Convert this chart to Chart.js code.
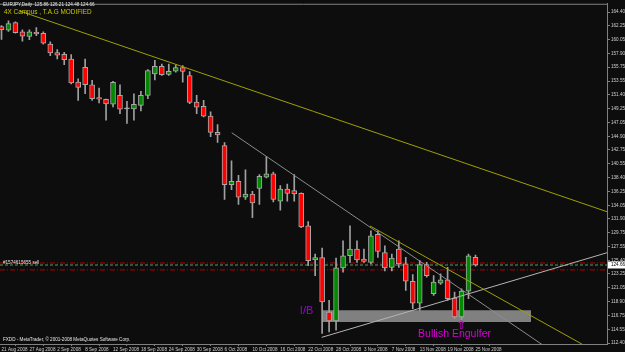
<!DOCTYPE html>
<html><head><meta charset="utf-8">
<script src="https://cdn.jsdelivr.net/npm/chart.js@4/dist/chart.umd.min.js"></script>
<style>html,body{margin:0;padding:0;background:#0d0d0d;overflow:hidden}</style>
</head><body>
<canvas id="c" width="625" height="352"></canvas>
<script>
// ---- data ----
const dateLabels = ["21 Aug 2008","27 Aug 2008","2 Sep 2008","8 Sep 2008","12 Sep 2008","18 Sep 2008","24 Sep 2008","30 Sep 2008","6 Oct 2008","10 Oct 2008","16 Oct 2008","22 Oct 2008","28 Oct 2008","3 Nov 2008","7 Nov 2008","13 Nov 2008","19 Nov 2008","25 Nov 2008"];
const priceTicks = ["164.40","162.25","160.05","157.90","155.75","153.55","151.40","149.25","147.05","144.90","142.75","140.55","138.40","136.25","134.05","131.90","129.75","127.55","125.40","123.25","121.05","118.90","116.75","114.55","112.40"];
const opens  = [162.14,161.56,162.76,161.31,160.58,161.25,161.09,159.38,158.04,157.77,157.04,153.41,155.75,152.99,150.96,150.71,149.93,151.33,149.20,149.20,149.74,151.33,154.70,155.90,154.61,155.12,155.71,154.45,150.29,149.62,148.06,145.50,143.43,137.30,137.81,135.32,135.79,136.68,138.48,139.01,134.70,136.61,136.36,135.94,130.80,125.45,125.81,117.28,115.87,124.20,126.12,127.16,125.60,125.07,129.50,126.63,124.29,127.16,124.83,122.11,118.68,124.72,120.15,121.80,122.33,119.52,116.50,120.55,125.86];
const highs  = [162.30,163.03,162.87,161.62,161.62,161.98,161.31,159.75,158.51,158.09,157.73,153.92,157.04,153.67,152.47,150.75,153.52,152.99,150.40,151.58,151.96,155.39,156.84,156.26,156.26,156.10,156.01,155.08,151.33,150.55,148.73,146.75,143.90,141.04,138.75,139.64,136.25,138.86,141.71,139.26,137.14,137.39,138.86,135.99,131.47,126.38,127.32,119.10,125.73,128.46,130.80,128.46,127.16,130.02,130.02,127.68,126.38,128.46,125.85,123.16,125.34,125.07,123.00,123.27,124.29,120.40,120.93,126.38,126.21];
const lows   = [160.11,161.36,161.09,159.85,160.07,160.69,159.38,157.57,157.04,156.17,153.14,150.55,151.58,150.55,150.13,147.44,149.51,148.46,146.90,147.44,148.89,150.80,153.77,154.45,154.45,154.97,153.41,150.02,148.46,147.95,144.83,143.94,134.96,136.52,134.18,134.96,132.09,134.18,138.33,134.59,133.29,134.70,134.70,130.53,124.56,123.00,113.91,114.16,114.42,123.52,125.07,125.07,125.07,124.83,125.85,123.75,123.75,124.29,120.66,117.81,117.54,122.74,119.88,121.60,119.10,116.25,116.09,119.37,124.48];
const closes = [161.67,162.61,161.20,160.63,161.31,161.00,159.54,157.98,157.66,156.95,153.30,152.58,152.99,150.80,150.71,149.98,153.36,149.15,149.20,149.93,151.33,155.23,155.90,154.58,155.12,155.71,155.08,150.21,149.46,148.06,145.50,145.10,137.30,137.81,135.32,135.79,134.43,138.59,139.01,134.96,136.61,135.90,135.83,130.64,125.34,125.81,118.87,115.87,124.20,126.12,127.16,125.45,125.23,129.24,126.79,124.20,125.76,124.83,122.11,118.68,124.72,123.00,121.96,122.33,119.37,116.50,120.55,126.12,124.66];
// trend lines: [bar index, price]
const upperTrend   = [[2.65,164.57],[86.87,133.04]];
const midTrend     = [[33.03,145.45],[78.3,111.6]];
const lowerTrend   = [[52.87,130.80],[84.3,111.6]];
const supportTrend = [[45.94,113.29],[86.87,126.59]];
const zoneX = [45.94, 75.97];
const zoneY = [115.72, 117.54];
const stopLevels = [124.98, 123.89];
const bidPrice = 124.66;
const xRange = [-0.215, 86.87];
const yRange = [112.244, 165.725];

// ---- build ----
const pts = a => a.map(p => ({x:p[0], y:p[1]}));
const hline = v => [{x:xRange[0], y:v},{x:xRange[1], y:v}];
const bodyColors = opens.map((o,i) => closes[i] > o ? '#008a00' : (closes[i] < o ? '#ff0000' : '#b0b0b0'));

const lineBase = {type:'line', pointRadius:0, borderWidth:1, fill:false, tension:0};
const datasets = [
  Object.assign({}, lineBase, {data: pts(upperTrend), borderColor:'#a0a000', order:0}),
  Object.assign({}, lineBase, {data: pts(midTrend), borderColor:'#8c8c8c', order:0}),
  Object.assign({}, lineBase, {data: pts(lowerTrend), borderColor:'#a0a000', order:0}),
  Object.assign({}, lineBase, {data: pts(supportTrend), borderColor:'#b4b4b4', order:0}),
  {type:'bar', data: opens.map((o,i)=>({x:i, y:[o, closes[i]]})), backgroundColor: bodyColors,
   borderColor:'#a8a8a8', borderWidth:1, borderSkipped:false, barThickness:5, grouped:false, minBarLength:1, order:2},
  {type:'bar', data: lows.map((l,i)=>({x:i, y:[l, highs[i]]})), backgroundColor:'#a0a0a0',
   borderWidth:0, barThickness:1, grouped:false, order:3},
  Object.assign({}, lineBase, {data: hline(stopLevels[0]), borderColor:'#b00000', borderDash:[5,2,1,2], order:4}),
  Object.assign({}, lineBase, {data: hline(stopLevels[1]), borderColor:'#b00000', borderDash:[5,2,1,2], order:4}),
  Object.assign({}, lineBase, {data: hline(bidPrice), borderColor:'#5f9a5f', borderDash:[3,2], order:4}),
  Object.assign({}, lineBase, {data: [{x:zoneX[0],y:zoneY[1]},{x:zoneX[1],y:zoneY[1]}],
   borderWidth:0, borderColor:'#808080', backgroundColor:'#808080', fill:{value: zoneY[0]}, order:10})
];

const overlay = {
  id:'overlay',
  beforeDraw(chart){
    const ctx = chart.ctx; ctx.save(); ctx.fillStyle='#0d0d0d'; ctx.fillRect(0,0,chart.width,chart.height); ctx.restore();
  },
  afterDraw(chart){
    const {ctx, chartArea:a, scales:{x, y}} = chart;
    ctx.save();
    ctx.strokeStyle='#808080'; ctx.lineWidth=1;
    ctx.beginPath(); ctx.moveTo(a.left, a.top+0.5); ctx.lineTo(a.right, a.top+0.5); ctx.stroke();
    ctx.textBaseline='middle'; ctx.textAlign='left';
    ctx.font='4.6px "Liberation Sans"'; ctx.fillStyle='#e6e6e6';
    ctx.fillText('EURJPY,Daily  125.86 126.21 124.48 124.66', 3, 5);
    ctx.fillText('FXDD - MetaTrader, \u00a9 2001-2008 MetaQuotes Software Corp.', 3, 340);
    ctx.fillText('#1574615655 sell', 3, y.getPixelForValue(bidPrice) - 2);
    ctx.font='6.4px "Liberation Sans"'; ctx.fillStyle='#c8c800';
    ctx.fillText('4X Campus , T.A.G MODIFIED', 4, 12);
    ctx.font='11px "Liberation Sans"'; ctx.fillStyle='#9a00d8';
    ctx.fillText('I/B', x.getPixelForValue(42.8), y.getPixelForValue(117.39));
    ctx.font='10.5px "Liberation Sans"'; ctx.fillStyle='#d800d8';
    ctx.fillText('Bullish Engulfer', x.getPixelForValue(59.76), y.getPixelForValue(113.80));
    ctx.textAlign='center';
    ctx.font='12px "DejaVu Sans"';
    ctx.fillText('\u21e7', x.getPixelForValue(66), y.getPixelForValue(115.11));
    // bid price box on axis
    const by = y.getPixelForValue(bidPrice);
    ctx.fillStyle='#ffffff'; ctx.fillRect(a.right+1, Math.round(by)-3.5, 18, 7);
    ctx.fillStyle='#000000'; ctx.textAlign='left'; ctx.font='4.6px "Liberation Sans"';
    ctx.fillText(bidPrice.toFixed(2), a.right+4, by);
    ctx.restore();
  }
};

new Chart(document.getElementById('c'), {
  type:'bar',
  data:{datasets},
  plugins:[overlay],
  options:{
    responsive:false, animation:false, devicePixelRatio:1,
    layout:{padding:{top:1,left:0,right:0,bottom:0}},
    plugins:{legend:{display:false}, tooltip:{enabled:false}},
    scales:{
      x:{type:'linear', offset:false, min:xRange[0], max:xRange[1],
         afterBuildTicks: s => { s.ticks = dateLabels.map((d,i)=>({value:i*4})); },
         afterFit: s => { s.height = 8; },
         grid:{drawOnChartArea:false, color:'#808080', tickLength:2},
         border:{color:'#808080'},
         ticks:{autoSkip:false, maxRotation:0, minRotation:0, align:'start', padding:1, color:'#d0d0d0',
                font:{family:'Liberation Sans', size:4.6},
                callback:(v,i)=>dateLabels[i]}},
      y:{position:'right', min:yRange[0], max:yRange[1],
         afterBuildTicks: s => { s.ticks = priceTicks.map(t=>({value:parseFloat(t)})); },
         afterFit: s => { s.width = 18; },
         grid:{drawOnChartArea:false, color:'#808080', tickLength:3},
         border:{color:'#808080'},
         ticks:{autoSkip:false, padding:1, color:'#d0d0d0', font:{family:'Liberation Sans', size:4.6},
                callback:(v,i)=>priceTicks[i]}}
    }
  }
});
</script>
</body></html>
